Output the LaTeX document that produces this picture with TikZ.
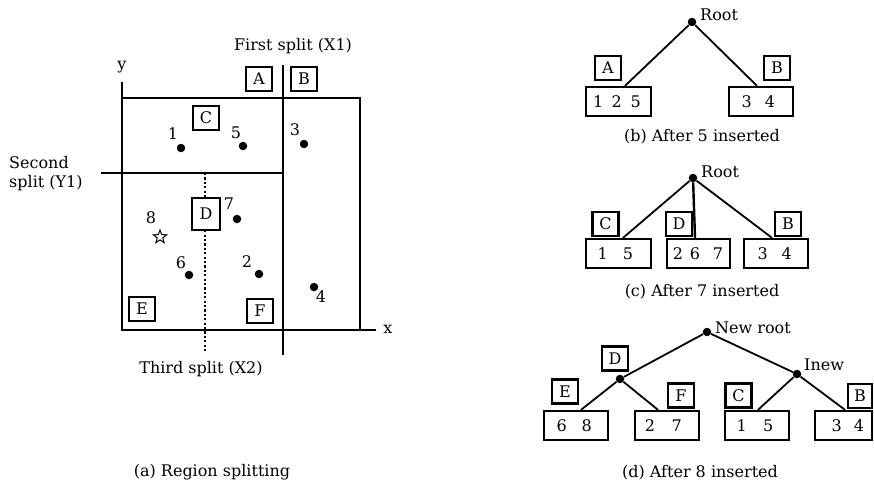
\documentclass[tikz,border=0pt]{standalone}
\usepackage{fontspec}
\setmainfont{DejaVu Serif}
\usetikzlibrary{shapes.geometric}
\begin{document}
\begin{tikzpicture}[x=1pt,y=-1pt,
  font=\fontsize{16}{19}\selectfont,
  axis/.style={line width=2.5pt},
  splitdots/.style={line width=2.3pt, dash pattern=on 2.2pt off 2.2pt},
  lbl/.style={draw, line width=2.2pt, fill=white, minimum width=26pt, minimum height=24pt, inner sep=0pt, font=\fontsize{16}{19}\selectfont},
  leaf/.style={draw, line width=2.3pt, minimum height=29pt, inner sep=0pt},
  dot/.style={circle, fill=black, inner sep=0pt, minimum size=8.5pt},
  edge/.style={line width=1.8pt},
  txt/.style={inner sep=0pt},
  dig/.style={inner sep=0pt},
  starpt/.style={star, star points=5, star point ratio=2.4, draw, line width=1pt, minimum size=14pt, inner sep=0pt}
]
\useasboundingbox (0,0) rectangle (874,485);
\fill[white] (0,0) rectangle (874,485);

% ---------------- (a) Region splitting ----------------
\coordinate (ytop) at (122,82);
\coordinate (org) at (122,330);
\coordinate (xend) at (376,330);
\coordinate (tl) at (122,98);
\coordinate (tr) at (360,98);
\coordinate (br) at (360,330);
\coordinate (s1t) at (283,65);
\coordinate (s1b) at (283,355);
\coordinate (s2l) at (101,173);
\coordinate (s2r) at (283,173);
\coordinate (s3t) at (205,173);
\coordinate (s3b) at (205,351);

\draw[axis] (ytop) -- (org) -- (xend);
\draw[axis] (tl) -- (tr) -- (br);
\draw[axis] (s1t) -- (s1b);
\draw[axis] (s2l) -- (s2r);
\draw[splitdots] (s3t) -- (s3b);

\node[txt] (ylab) at (122,67) {y};
\node[txt] (xlab) at (388,329) {x};
\node[txt] (first) at (293,46) {First split (X1)};
\node[txt, align=left, anchor=west] (second) at (9,174) {Second\\split (Y1)};
\node[txt] (third) at (201,369) {Third split (X2)};
\node[txt] (capa) at (212,472) {(a) Region splitting};

\node[lbl] (aA) at (259,79) {A};
\node[lbl] (aB) at (304,79) {B};
\node[lbl] (aC) at (206,118) {C};
\node[lbl, minimum width=28pt, minimum height=32pt] (aD) at (206,214) {D};
\node[lbl] (aE) at (142,309) {E};
\node[lbl] (aF) at (260,311) {F};

\node[dot] (p1) at (181,148) {};
\node[txt] (n1) at (173,134) {1};
\node[dot] (p5) at (243,146) {};
\node[txt] (n5) at (236,133) {5};
\node[dot] (p3) at (304,144) {};
\node[txt] (n3) at (295,130) {3};
\node[dot] (p7) at (237,219) {};
\node[txt] (n7) at (229,204) {7};
\node[starpt] (p8) at (160,237) {};
\node[txt] (n8) at (151,218) {8};
\node[dot] (p6) at (189,275) {};
\node[txt] (n6) at (181,263) {6};
\node[dot] (p2) at (259,274) {};
\node[txt] (n2) at (247,262) {2};
\node[dot] (p4) at (314,287) {};
\node[txt] (n4) at (321,297) {4};

% ---------------- (b) After 5 inserted ----------------
\node[dot] (rb) at (692,22) {};
\node[txt, anchor=west] (rbl) at (700,15) {Root};
\node[lbl] (bA) at (608,68) {A};
\node[lbl] (bB) at (777,68) {B};
\node[leaf, minimum width=65pt] (b125) at (618.5,101.5) {};
\node[leaf, minimum width=64pt] (b34) at (761,101.5) {};
\node[dig] (b125a) at (598.3,101.5) {1};
\node[dig] (b125b) at (616.7,101.5) {2};
\node[dig] (b125c) at (635.7,101.5) {5};
\node[dig] (b34a) at (746.7,101.5) {3};
\node[dig] (b34b) at (770,101.5) {4};
\draw[edge] (rb) -- ([xshift=6.5pt]b125.north);
\draw[edge] (rb) -- ([xshift=-4pt]b34.north);
\node[txt] (capb) at (702,137) {(b) After 5 inserted};

% ---------------- (c) After 7 inserted ----------------
\node[dot] (rc) at (693,178) {};
\node[txt, anchor=west] (rcl) at (701,172) {Root};
\node[lbl] (cC) at (605.5,224) {C};
\node[lbl] (cD) at (679,224) {D};
\node[lbl] (cB) at (788,224) {B};
\node[leaf, minimum width=65pt] (c15) at (618.5,253.5) {};
\node[leaf, minimum width=63pt] (c267) at (698.5,253.5) {};
\node[leaf, minimum width=64pt] (c34) at (776,253.5) {};
\node[dig] (c15a) at (602.7,253.5) {1};
\node[dig] (c15b) at (628,253.5) {5};
\node[dig] (c267a) at (678,253.5) {2};
\node[dig] (c267b) at (695,253.5) {6};
\node[dig] (c267c) at (718,253.5) {7};
\node[dig] (c34a) at (762.7,253.5) {3};
\node[dig] (c34b) at (786.7,253.5) {4};
\draw[edge] (rc) -- ([xshift=4.5pt]c15.north);
\draw[edge, line width=2.4pt] (rc) -- ([xshift=-3.5pt]c267.north);
\draw[edge] (rc) -- ([xshift=-4pt]c34.north);
\node[txt] (capc) at (702,292) {(c) After 7 inserted};

% ---------------- (d) After 8 inserted ----------------
\node[dot] (rd) at (707,332) {};
\node[txt, anchor=west] (rdl) at (715,328) {New root};
\node[dot] (dd) at (620,379) {};
\node[dot] (di) at (797,374) {};
\node[txt, anchor=west] (dil) at (804,365) {Inew};
\node[lbl] (dD) at (615,358.5) {D};
\node[lbl] (dE) at (565,391.5) {E};
\node[lbl] (dF) at (681,395.5) {F};
\node[lbl] (dC) at (738.5,395.5) {C};
\node[lbl, minimum width=24pt] (dB) at (860,396) {B};
\node[leaf, minimum width=64pt] (d68) at (576,425.5) {};
\node[leaf, minimum width=64pt] (d27) at (667,425.5) {};
\node[leaf, minimum width=64pt] (d15) at (757,425.5) {};
\node[leaf, minimum width=57pt] (d34) at (843.5,425.5) {};
\node[dig] (d68a) at (561.7,425.5) {6};
\node[dig] (d68b) at (586.7,425.5) {8};
\node[dig] (d27a) at (650,425.5) {2};
\node[dig] (d27b) at (676.7,425.5) {7};
\node[dig] (d15a) at (741.7,425.5) {1};
\node[dig] (d15b) at (768.3,425.5) {5};
\node[dig] (d34a) at (836.7,425.5) {3};
\node[dig] (d34b) at (859,425.5) {4};
\draw[edge] (rd) -- (dd);
\draw[edge] (rd) -- (di);
\draw[edge] (dd) -- ([xshift=5pt]d68.north);
\draw[edge] (dd) -- ([xshift=-9pt]d27.north);
\draw[edge] (di) -- ([xshift=1pt]d15.north);
\draw[edge] (di) -- ([xshift=1.5pt]d34.north);
\node[txt] (capd) at (700,473) {(d) After 8 inserted};
\end{tikzpicture}
\end{document}
